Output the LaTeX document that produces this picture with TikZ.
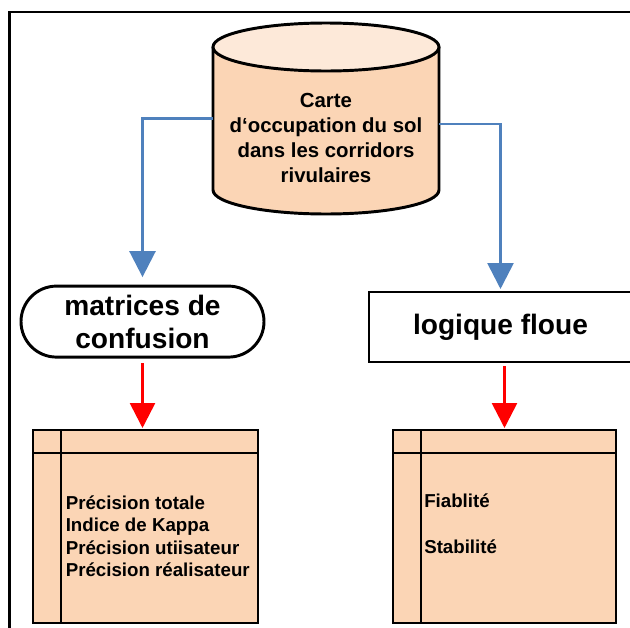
\documentclass[tikz,border=0pt]{standalone}
\usepackage{fontspec}
\setmainfont{Liberation Sans}
\usepackage{xcolor}
\usepackage{tikz}
\usetikzlibrary{positioning,shapes,arrows,arrows.meta,calc,matrix,backgrounds}
\definecolor{peche}{HTML}{FBD5B5}
\definecolor{pecheclair}{HTML}{FDE9D9}
\definecolor{bleuoffice}{HTML}{4F81BD}

\begin{document}
\begin{tikzpicture}[
    contour/.style={draw=black, line width=2.1pt},
    flechebleue/.style={draw=bleuoffice, line width=1.9pt, -{Triangle[length=0.65cm, width=0.65cm]}},
    flecherouge/.style={draw=red, line width=1.9pt, -{Triangle[length=0.62cm, width=0.62cm]}},
    bloc/.style={contour, fill=white, font=\bfseries\fontsize{20}{23.4}\selectfont, align=center, outer sep=0pt, inner sep=0pt},
    tableau/.style={contour, fill=peche, minimum width=#1, minimum height=4.825cm, outer sep=0pt},
    texte/.style={font=\bfseries\fontsize{13.3}{15}\selectfont, inner sep=0pt, anchor=base west}
]
    \useasboundingbox (0,0) rectangle (15.75,-15.7);
    \clip (0,0) rectangle (15.75,-15.7);
    \draw[line width=2.1pt] (16,-0.3) -- (0.24,-0.3) -- (0.24,-16);

    \node[minimum width=5.65cm, minimum height=3.575cm, inner sep=0pt, outer sep=0pt] (carte) at (8.15,-2.9625) {};
    \draw[contour, fill=peche] (carte.north west) -- (carte.south west)
        arc[start angle=180, end angle=360, x radius=2.825cm, y radius=0.6cm] -- (carte.north east);
    \draw[contour, fill=pecheclair] (carte.north) ellipse[x radius=2.825cm, y radius=0.6cm];
    \node[font=\bfseries\fontsize{14.5}{17.7}\selectfont, align=center, inner sep=0pt] (cartetexte)
        at ($(carte.center)+(0,-0.49)$) {Carte\\d‘occupation du sol\\dans les corridors\\rivulaires};

    \node[bloc, rounded rectangle, minimum width=6.075cm, minimum height=1.775cm] (matrices) at (3.5625,-8.04) {matrices de\\confusion};
    \node[bloc, rectangle, minimum width=6.575cm, minimum height=1.75cm] (logique) at (12.5125,-8.175) {logique floue};

    \node[tableau=5.625cm] (tabgauche) at (3.6375,-13.1625) {};
    \node[tableau=5.575cm] (tabdroite) at (12.6125,-13.1625) {};
    \foreach \tab in {tabgauche,tabdroite} {
        \draw[contour] ([yshift=-0.575cm]\tab.north west) -- ([yshift=-0.575cm]\tab.north east);
        \draw[contour] ([xshift=0.7cm]\tab.north west) -- ([xshift=0.7cm]\tab.south west);
    }

    \foreach \t [count=\i] in {Précision totale, Indice de Kappa, Précision utiisateur, Précision réalisateur}
        \node[texte] (ligne\i) at (1.6375,{-12.725-0.5625*(\i-1)}) {\t};
    \node[texte] (fiabilite) at (10.6,-12.675) {Fiablité};
    \node[texte] (stabilite) at (10.6,-13.825) {Stabilité};

    \draw[flechebleue, shorten >=0.225cm] (carte.west) -| (matrices.north);
    \draw[flechebleue, shorten >=0.075cm] ([yshift=-0.14cm]carte.east) -| (logique.north);
    \draw[flecherouge, shorten <=0.15cm, shorten >=0.05cm] (matrices.south) -- (matrices.south |- tabgauche.north);
    \draw[flecherouge, shorten <=0.1cm, shorten >=0.05cm] (tabdroite.north |- logique.south) -- (tabdroite.north);
\end{tikzpicture}
\end{document}
